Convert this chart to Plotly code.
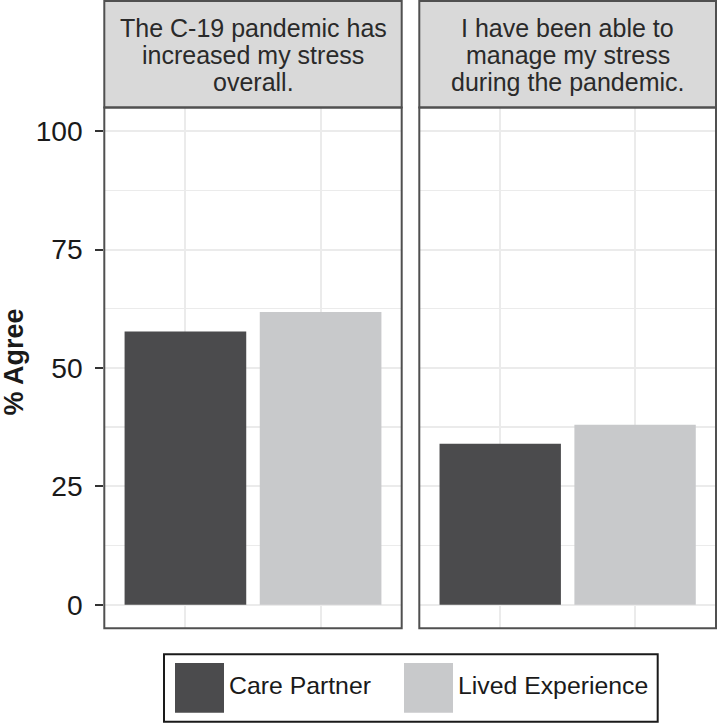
import plotly.graph_objects as go

# ---- data ----
groups = ["Care Partner", "Lived Experience"]
statement_lines = [
    ["The C-19 pandemic has", "increased my stress", "overall."],
    ["I have been able to", "manage my stress", "during the pandemic."],
]
care_partner = [57.7, 34.0]
lived_experience = [61.8, 38.0]
y_ticks = [0, 25, 50, 75, 100]
y_minor = [12.5, 37.5, 62.5, 87.5]
series = [("Care Partner", care_partner), ("Lived Experience", lived_experience)]

# ---- style ----
W, H = 718, 723
colors = {"Care Partner": "#4b4b4d", "Lived Experience": "#c8c9cb"}
FONT = "Arial, Liberation Sans, sans-serif"
border_col = "#505050"
grid_col = "#ebebeb"


def px(x):
    return x / W


def py(y):
    return 1 - y / H


panels = [(104.3, 401.7), (419.3, 716.0)]
panel_top, panel_bot = 107.5, 628.3
strip_top = 1.0

fig = go.Figure()

for i, (name, vals) in enumerate(series):
    for p in range(2):
        fig.add_trace(go.Bar(
            x=[groups[i]], y=[vals[p]], name=name,
            marker=dict(color=colors[name], line=dict(width=0)),
            width=0.9, showlegend=False, hoverinfo="skip",
            xaxis="x" if p == 0 else "x2", yaxis="y" if p == 0 else "y2",
        ))

common_x = dict(type="category", categoryorder="array", categoryarray=groups,
                range=[-0.6, 1.6], showticklabels=False, ticks="",
                showgrid=True, gridcolor=grid_col, gridwidth=2, zeroline=False,
                showline=False, fixedrange=True)
common_y = dict(range=[-5, 105], tickvals=y_ticks, showgrid=True, gridcolor=grid_col,
                gridwidth=2, zeroline=False, showline=False, fixedrange=True,
                minor=dict(tickvals=y_minor, showgrid=True, gridcolor=grid_col, gridwidth=1.2, ticks=""))

fig.update_layout(
    width=W, height=H, margin=dict(l=0, r=0, t=0, b=0),
    paper_bgcolor="white", plot_bgcolor="white", barmode="overlay",
    font=dict(family=FONT),
    xaxis=dict(domain=[px(panels[0][0]), px(panels[0][1])], anchor="y", **common_x),
    xaxis2=dict(domain=[px(panels[1][0]), px(panels[1][1])], anchor="y2", **common_x),
    yaxis=dict(domain=[py(panel_bot), py(panel_top)], anchor="x",
               ticks="outside", ticklen=8, tickwidth=2, tickcolor="#333333",
               tickfont=dict(size=28.2, color="#1a1a1a", family=FONT),
               ticklabelstandoff=7, **common_y),
    yaxis2=dict(domain=[py(panel_bot), py(panel_top)], anchor="x2", matches="y",
                showticklabels=False, ticks="", **common_y),
    showlegend=False,
)

shapes = []
annotations = []
for p, (x0, x1) in enumerate(panels):
    # strip
    shapes.append(dict(type="rect", xref="paper", yref="paper",
                       x0=px(x0), x1=px(x1), y0=py(panel_top), y1=py(strip_top),
                       fillcolor="#d9d9d9", line=dict(color=border_col, width=2), layer="above"))
    # panel border
    shapes.append(dict(type="rect", xref="paper", yref="paper",
                       x0=px(x0), x1=px(x1), y0=py(panel_bot), y1=py(panel_top),
                       fillcolor="rgba(0,0,0,0)", line=dict(color=border_col, width=2), layer="above"))
    for j, line in enumerate(statement_lines[p]):
        annotations.append(dict(text=line, xref="paper", yref="paper",
                                x=px((x0 + x1) / 2), y=py(28 + 27.2 * j),
                                xanchor="center", yanchor="middle", showarrow=False,
                                font=dict(size=25, color="#2a2a2a", family=FONT)))

# axis title
annotations.append(dict(text="% Agree", xref="paper", yref="paper", x=px(13), y=py(362.5),
                        textangle=-90, xanchor="center", yanchor="middle", showarrow=False,
                        font=dict(size=27, color="#1a1a1a", family=FONT, weight="bold")))

# legend (drawn manually for large keys)
shapes.append(dict(type="rect", xref="paper", yref="paper", x0=px(164), x1=px(657.7),
                   y0=py(721.7), y1=py(654.3), fillcolor="white",
                   line=dict(color="#1a1a1a", width=2)))
key_x = [175, 404]
for k, (name, _) in enumerate(series):
    shapes.append(dict(type="rect", xref="paper", yref="paper", x0=px(key_x[k]), x1=px(key_x[k] + 49),
                       y0=py(712.7), y1=py(663), fillcolor=colors[name], line=dict(width=0)))
    annotations.append(dict(text=name, xref="paper", yref="paper", x=px(key_x[k] + 52), y=py(685),
                            xanchor="left", yanchor="middle", showarrow=False,
                            font=dict(size=24.8, color="#1a1a1a", family=FONT)))

fig.update_layout(shapes=shapes, annotations=annotations)
fig.write_html("out.html", config={"displayModeBar": False, "staticPlot": True},
               post_script="document.body.style.margin='0';document.body.style.overflow='hidden';")
